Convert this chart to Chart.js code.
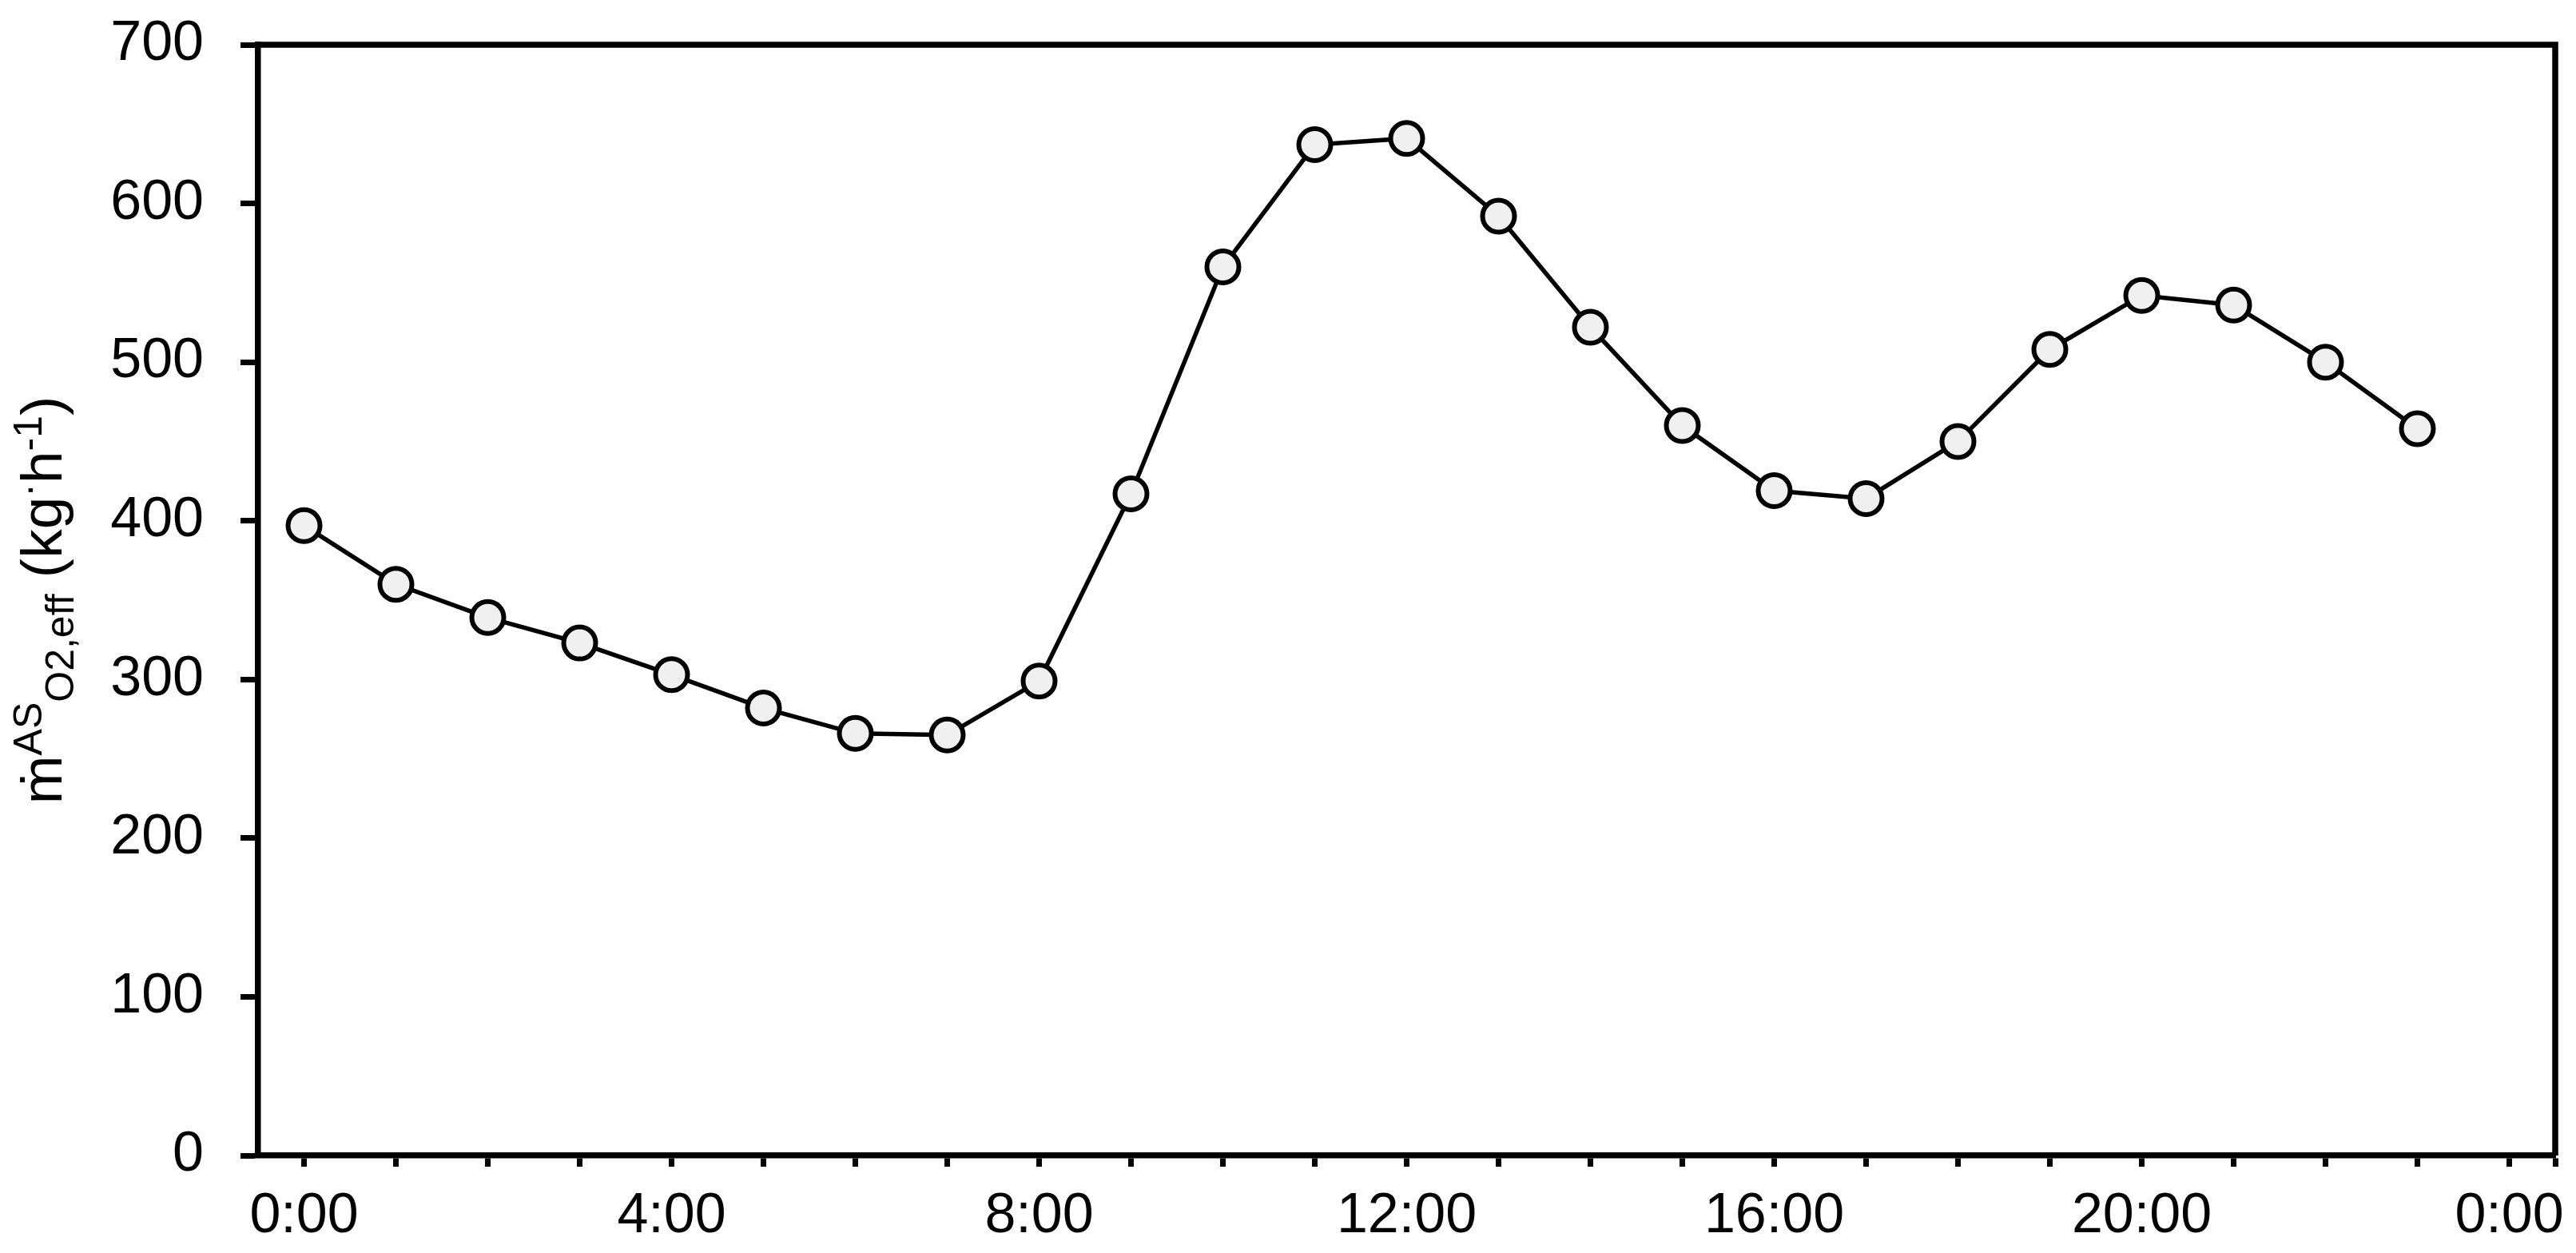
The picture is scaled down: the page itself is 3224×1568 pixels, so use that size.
<!DOCTYPE html>
<html>
<head>
<meta charset="utf-8">
<script src="https://cdn.jsdelivr.net/npm/chart.js@4.4.0/dist/chart.umd.min.js"></script>
<style>
  html, body { margin: 0; padding: 0; background: #fff; }
  canvas { display: block; }
</style>
</head>
<body>
<canvas id="myChart" width="3224" height="1568"></canvas>
<script>
// horas del dia y caudal efectivo de O2 (kg/h)
const horas = [0, 1, 2, 3, 4, 5, 6, 7, 8, 9, 10, 11, 12, 13, 14, 15, 16, 17, 18, 19, 20, 21, 22, 23];
const valores = [397, 360, 339, 323, 303, 282, 266, 265, 299, 417, 560, 637, 641, 592, 522, 460, 419, 414, 450, 508, 542, 536, 500, 458];

// etiquetas del eje x (cada 4 horas)
const etiquetasX = ['0:00', '4:00', '8:00', '12:00', '16:00', '20:00', '0:00'];
const ticksY = [0, 100, 200, 300, 400, 500, 600, 700];

const FUENTE = '"Liberation Sans", Arial, sans-serif';

// titulo del eje y con sub/superindices
const tituloY = {
    id: 'tituloY',
    afterDraw: function (chart) {
        const ctx = chart.ctx;
        const area = chart.chartArea;
        const partes = [
            { t: 'ṁ', size: 73, shift: 0 },
            { t: 'AS', size: 50, shift: -25 },
            { t: 'O2,eff', size: 50, shift: 15 },
            { t: ' (kg', size: 73, shift: 0 },
            { t: '·', size: 50, shift: -25 },
            { t: 'h', size: 73, shift: 0 },
            { t: '-1', size: 50, shift: -25 },
            { t: ')', size: 73, shift: 0 }
        ];
        ctx.save();
        let total = 0;
        partes.forEach(p => {
            ctx.font = p.size + 'px ' + FUENTE;
            p.w = ctx.measureText(p.t).width;
            total += p.w;
        });
        ctx.translate(77, (area.top + area.bottom) / 2);
        ctx.rotate(-Math.PI / 2);
        ctx.fillStyle = '#000';
        ctx.textBaseline = 'alphabetic';
        ctx.textAlign = 'left';
        let u = -total / 2;
        partes.forEach(p => {
            ctx.font = p.size + 'px ' + FUENTE;
            ctx.fillText(p.t, u, p.shift);
            u += p.w;
        });
        ctx.restore();
    }
};

// marco superior y derecho
const marco = {
    id: 'marco',
    afterDraw: function (chart) {
        const ctx = chart.ctx;
        const a = chart.chartArea;
        ctx.save();
        ctx.strokeStyle = '#000';
        ctx.lineWidth = 7.5;
        ctx.beginPath();
        ctx.moveTo(a.left, a.top);
        ctx.lineTo(a.right, a.top);
        ctx.lineTo(a.right, a.bottom);
        ctx.stroke();
        ctx.restore();
    }
};

const canvas = document.getElementById('myChart');
const chart = new Chart(canvas, {
    type: 'line',
    data: {
        datasets: [{
            label: 'mO2',
            data: horas.map((h, i) => ({ x: h, y: valores[i] })),
            borderColor: '#000',
            borderWidth: 5.5,
            pointRadius: 20,
            pointBorderWidth: 6,
            pointBorderColor: '#000',
            pointBackgroundColor: '#f0f0f0',
            tension: 0
        }]
    },
    options: {
        responsive: false,
        animation: false,
        devicePixelRatio: 1,
        layout: { padding: { left: 0, top: 56, right: 17, bottom: 0 } },
        plugins: {
            legend: { display: false },
            tooltip: { enabled: false }
        },
        scales: {
            x: {
                type: 'linear',
                min: -0.5,
                max: 24.5,
                afterBuildTicks: function (scale) {
                    const t = [];
                    for (let h = 0; h <= 24; h++) t.push({ value: h });
                    t.push({ value: 24.5 });
                    scale.ticks = t;
                },
                afterFit: function (scale) {
                    scale.height = 122;
                    scale.paddingLeft = 0;
                    scale.paddingRight = 0;
                },
                border: { display: true, color: '#000', width: 7.5 },
                grid: { drawOnChartArea: false, drawTicks: true, tickLength: 14, tickWidth: 7, tickColor: '#000' },
                ticks: {
                    autoSkip: false,
                    maxRotation: 0,
                    padding: 21,
                    color: '#000',
                    font: { family: FUENTE, size: 70 },
                    callback: function (v) {
                        if (Number.isInteger(v) && v % 4 === 0) return etiquetasX[v / 4];
                        return '';
                    }
                }
            },
            y: {
                min: 0,
                max: 700,
                afterBuildTicks: function (scale) {
                    scale.ticks = ticksY.map(v => ({ value: v }));
                },
                afterFit: function (scale) {
                    scale.width = 323;
                    scale.paddingTop = 0;
                    scale.paddingBottom = 0;
                },
                border: { display: true, color: '#000', width: 7.5 },
                grid: { drawOnChartArea: false, drawTicks: true, tickLength: 22, tickWidth: 7, tickColor: '#000' },
                ticks: {
                    padding: 46,
                    color: '#000',
                    font: { family: FUENTE, size: 70 }
                }
            }
        }
    },
    plugins: [tituloY, marco]
});
</script>
</body>
</html>
